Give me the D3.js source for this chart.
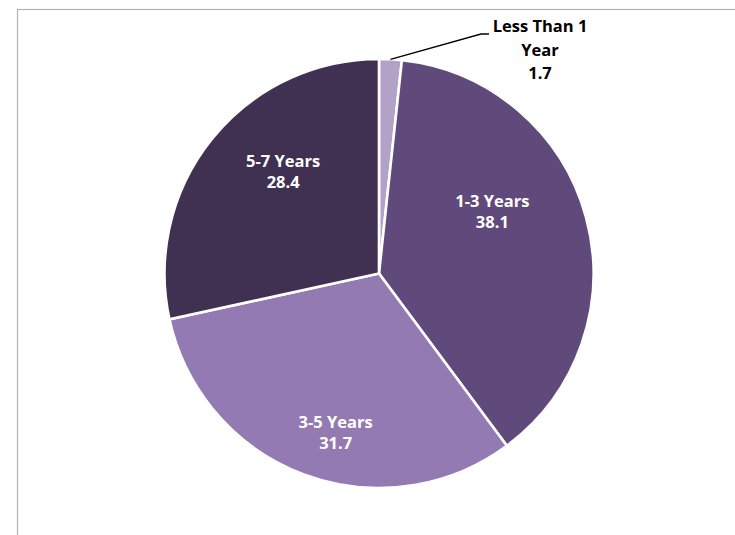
<!DOCTYPE html>
<html>
<head>
<meta charset="utf-8">
<script src="https://cdn.jsdelivr.net/npm/d3@7"></script>
<style>
  html, body { margin: 0; padding: 0; background: #fff; }
  svg { display: block; }
  text { font-family: "Open Sans", "Noto Sans", sans-serif; font-weight: 700; font-size: 16.5px; }
</style>
</head>
<body>
<svg id="chart" width="735" height="535"></svg>
<script>
// Share of respondents by length of time
const categories = ["Less Than 1 Year", "1-3 Years", "3-5 Years", "5-7 Years"];
const labelLines = [["Less Than 1", "Year"], ["1-3 Years"], ["3-5 Years"], ["5-7 Years"]];
const values = [1.7, 38.1, 31.7, 28.4];
const colors = ["#b3a2c7", "#604a7b", "#947ab2", "#403152"];

const svg = d3.select("#chart");
const W = 735, H = 535;

// chart area frame
svg.append("rect")
  .attr("x", 17.5).attr("y", 9.5)
  .attr("width", W).attr("height", H)
  .attr("fill", "#fff")
  .attr("stroke", "#b4b4b4")
  .attr("stroke-width", 1.2);

const cx = 379, cy = 273.5, R = 214.5;
const g = svg.append("g").attr("transform", `translate(${cx},${cy})`);

const data = categories.map((c, i) => ({ name: c, lines: labelLines[i], value: values[i], color: colors[i] }));

const pie = d3.pie().value(d => d.value).sort(null);
const arcs = pie(data);
const arc = d3.arc().innerRadius(0).outerRadius(R);

g.selectAll("path.slice")
  .data(arcs)
  .join("path")
  .attr("class", "slice")
  .attr("d", arc)
  .attr("fill", d => d.data.color)
  .attr("stroke", "#fff")
  .attr("stroke-width", 2.6)
  .attr("stroke-linejoin", "miter");

// inside labels: centroid on a label ring, nudged to clear the slice edges
const labelArc = d3.arc().innerRadius(132).outerRadius(132);
const nudge = [null, [-14, -27], [3, 36], [7, -19]];
const lineH = 21;

arcs.forEach((a, i) => {
  if (!nudge[i]) return;
  const [x, y] = labelArc.centroid(a);
  const lines = a.data.lines.concat([d3.format(".1f")(a.data.value)]);
  const t = g.append("text")
    .attr("text-anchor", "middle")
    .attr("fill", "#fff");
  const y0 = y + nudge[i][1] - (lines.length - 1) * lineH / 2 + 5.5;
  lines.forEach((s, k) => {
    t.append("tspan")
      .attr("x", x + nudge[i][0])
      .attr("y", y0 + k * lineH)
      .text(s);
  });
});

// outside label with leader line for the smallest slice
{
  const a = arcs[0];
  const mid = (a.startAngle + a.endAngle) / 2;
  const p0 = [R * Math.sin(mid), -R * Math.cos(mid)];
  const elbow = [481 - cx, 34 - cy];
  const end = [489 - cx, 34 - cy];
  g.append("path")
    .attr("d", d3.line()([p0, elbow, end]))
    .attr("fill", "none")
    .attr("stroke", "#000")
    .attr("stroke-width", 1.3);

  const lines = a.data.lines.concat([d3.format(".1f")(a.data.value)]);
  const t = g.append("text")
    .attr("text-anchor", "middle")
    .attr("fill", "#000");
  lines.forEach((s, k) => {
    t.append("tspan")
      .attr("x", 540 - cx)
      .attr("y", 32 - cy + k * 23.5)
      .text(s);
  });
}
</script>
</body>
</html>
